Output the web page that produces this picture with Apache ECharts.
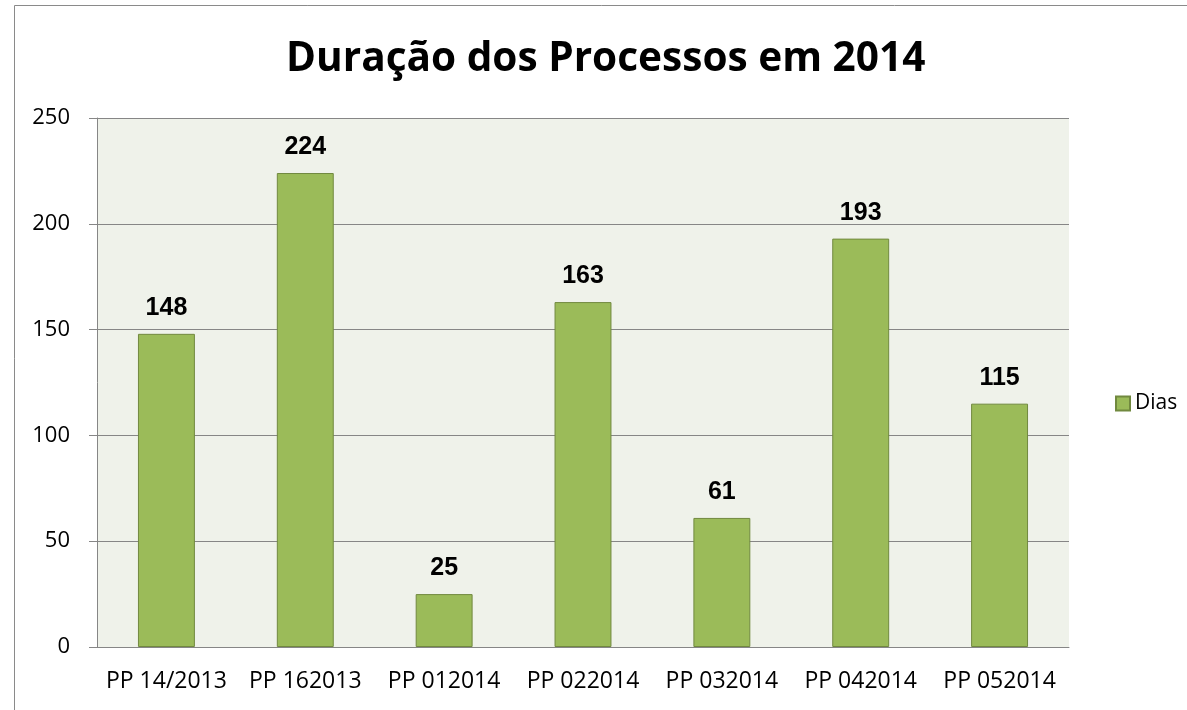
<!DOCTYPE html>
<html>
<head>
<meta charset="utf-8">
<script src="https://cdn.jsdelivr.net/npm/echarts@6/dist/echarts.min.js"></script>
<style>
  html, body { margin: 0; padding: 0; background: #fff; }
  #chart { width: 1187px; height: 710px; }
</style>
</head>
<body>
<div id="chart"></div>
<script>
const categories = ['PP 14/2013', 'PP 162013', 'PP 012014', 'PP 022014', 'PP 032014', 'PP 042014', 'PP 052014']
const dias = [148, 224, 25, 163, 61, 193, 115]
const seriesName = 'Dias'
const titleText = 'Duração dos Processos em 2014'

const chart = echarts.init(document.getElementById('chart'))
const option = {
  animation: false,
  backgroundColor: '#fff',
  title: {
    text: titleText,
    left: 286,
    top: 39,
    padding: 0,
    textStyle: { fontFamily: 'Open Sans', fontWeight: 'bold', fontSize: 40.6, color: '#000' }
  },
  legend: {
    data: [seriesName],
    orient: 'vertical',
    left: 1110,
    top: 388,
    itemWidth: 14,
    itemHeight: 14,
    itemGap: 6,
    icon: 'rect',
    textStyle: { fontFamily: 'Open Sans', fontSize: 21, color: '#000' }
  },
  graphic: [{
    type: 'rect',
    shape: { x: 14.5, y: 5.5, width: 1300, height: 800 },
    style: { fill: 'none', stroke: '#8a8a8a', lineWidth: 1 },
    z: -1
  }],
  grid: {
    left: 97, right: 118, top: 118, bottom: 63,
    show: true, backgroundColor: '#eff2ea', borderWidth: 0
  },
  xAxis: {
    type: 'category',
    data: categories,
    axisLine: { lineStyle: { color: '#868686', width: 1 } },
    axisTick: { length: 8, interval: 0, lineStyle: { color: '#868686' } },
    axisLabel: { interval: 0, hideOverlap: false, fontFamily: 'Open Sans', fontSize: 23, color: '#000', margin: 23 }
  },
  yAxis: {
    type: 'value',
    min: 0, max: 250, interval: 50,
    axisLine: { show: true, lineStyle: { color: '#868686', width: 1 } },
    axisTick: { show: true, length: 8, lineStyle: { color: '#868686' } },
    splitLine: { lineStyle: { color: '#868686', width: 1 } },
    axisLabel: { fontFamily: 'Open Sans', fontSize: 22, color: '#000', margin: 27 }
  },
  series: [{
    name: seriesName,
    type: 'bar',
    data: dias,
    barWidth: '41%',
    itemStyle: { color: '#9bbb59', borderColor: '#71893f', borderWidth: 1 },
    label: {
      show: true, position: 'top', distance: 13,
      fontFamily: 'Liberation Sans', fontWeight: 'bold', fontSize: 25, color: '#000'
    }
  }]
}
chart.setOption(option)
</script>
</body>
</html>
